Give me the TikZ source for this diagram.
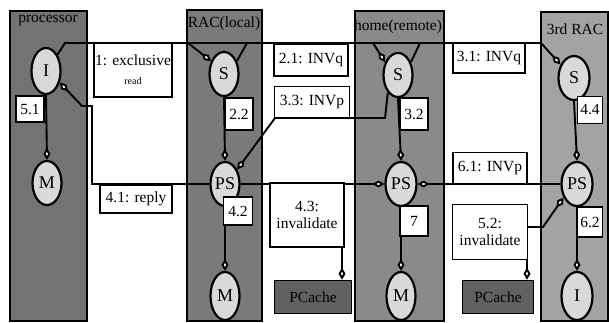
\documentclass[tikz,border=0pt]{standalone}
\usepackage{fontspec}
\setmainfont{Liberation Serif}
\usetikzlibrary{arrows.meta,shapes.geometric}

\begin{document}
\begin{tikzpicture}[x=1pt,y=-1pt,
  column/.style={draw,line width=1.6pt,fill=#1,inner sep=0pt},
  head/.style={inner sep=0pt,font=\fontsize{15.5}{17}\selectfont},
  state/.style={ellipse,draw,line width=2.2pt,fill=black!15,inner sep=0pt,
    minimum width=29pt,minimum height=44pt,font=\fontsize{18}{20}\selectfont},
  lbl/.style={draw,line width=1.6pt,fill=white,inner sep=1pt,align=center,
    font=\fontsize{15.5}{17}\selectfont},
  cache/.style={draw,line width=1.6pt,fill=black!62,inner sep=0pt,
    minimum width=#1,minimum height=33pt,font=\fontsize{15.5}{17}\selectfont},
  msg/.style={line width=1.9pt,-{Diamond[length=12pt,width=7pt,fill=white]}}]
\path[use as bounding box] (0,0) rectangle (609,323);
% columns
\node[column=black!55,minimum width=77pt,minimum height=310pt] (colP) at (48.5,166) {};
\node[column=black!52,minimum width=75pt,minimum height=311pt] (colR) at (224.5,165.5) {};
\node[column=black!46,minimum width=89pt,minimum height=310pt] (colH) at (399.5,166) {};
\node[column=black!36,minimum width=67pt,minimum height=309pt] (colX) at (574.5,166.5) {};
\node[head] (hdP) at (48,21) {processor};
\node[head] (hdR) at (224,24) {RAC(local)};
\node[head] (hdH) at (398,27) {home(remote)};
\node[head] (hdX) at (575,29) {3rd RAC};
% states
\node[state,minimum height=46pt] (pI) at (46,71) {I};
\node[state] (pM) at (47,183) {M};
\node[state] (rS) at (224,74) {S};
\node[state] (rPS) at (225,184) {PS};
\node[state,minimum height=48pt] (rM) at (225,296) {M};
\node[state] (hS) at (398,75) {S};
\node[state,minimum width=31pt] (hPS) at (401,184) {PS};
\node[state,minimum height=48pt] (hM) at (401,296) {M};
\node[state,minimum width=31pt] (xS) at (574,78) {S};
\node[state,minimum width=31pt] (xPS) at (577,184) {PS};
\node[state,minimum width=31pt,minimum height=48pt] (xI) at (577,296) {I};
% caches
\node[cache=77pt] (pc1) at (313,297) {PCache};
\node[cache=71pt] (pc2) at (498,297) {PCache};
% rail points
\coordinate (t0) at (65,43);
\coordinate (t1) at (188,43);
\coordinate (t2) at (247,43);
\coordinate (t3) at (373,43);
\coordinate (t4) at (420,43);
\coordinate (t5) at (541,43);
\coordinate (c33a) at (385,118);
\coordinate (c33b) at (275,118);
\coordinate (c41a) at (92,184);
\coordinate (c41b) at (92,106);
\coordinate (c41c) at (82,106);
\coordinate (j43) at (342,184);
\coordinate (c52a) at (543,227);
\coordinate (c52b) at (527,227);
% connectors
\draw[line width=1.9pt] (pI.55) -- (t0) -- (t5);
\draw[msg] (t1) -- (rS.135);
\draw[line width=1.9pt] (rS.45) -- (t2);
\draw[msg] (t3) -- (hS.135);
\draw[line width=1.9pt] (hS.45) -- (t4);
\draw[msg] (t5) -- (xS.135);
\draw[msg] (pI.south) -- (pM.north);
\draw[msg] (rS.south) -- (rPS.north);
\draw[msg] (hS.south) -- (hPS.north);
\draw[msg] (xS.south) -- (xPS.north);
\draw[msg] (rPS.south) -- (rM.north);
\draw[msg] (hPS.south) -- (hM.north);
\draw[msg] (xPS.south) -- (xI.north);
\draw[msg] (hS.240) -- (c33a) -- (c33b) -- (rPS.50);
\draw[msg] (rPS.west) -- (c41a) -- (c41b) -- (c41c) -- (pI.-40);
\draw[msg] (rPS.east) -- (hPS.west);
\draw[msg] (xPS.west) -- (hPS.east);
\draw[msg] (j43) -- (j43 |- pc1.north);
\draw[msg,{Diamond[length=12pt,width=7pt,fill=white]}-{Diamond[length=12pt,width=7pt,fill=white]}]
  (xPS.225) -- (c52a) -- (c52b) -- (c52b |- pc2.north);
% labels
\node[lbl,minimum width=70pt,minimum height=54pt] (l1) at (133,70)
  {1: exclusive\\[2pt]{\fontsize{10}{12}\selectfont read}};
\node[lbl,minimum width=28pt,minimum height=26pt] (l51) at (30,109) {5.1};
\node[lbl,minimum width=74pt,minimum height=32pt] (l21) at (311,60) {2.1: INVq};
\node[lbl,minimum width=75pt,minimum height=31pt] (l33) at (312,102) {3.3: INVp};
\node[lbl,minimum width=28pt,minimum height=32pt] (l22) at (239,114) {2.2};
\node[lbl,minimum width=28pt,minimum height=32pt] (l32) at (414,114) {3.2};
\node[lbl,minimum width=72pt,minimum height=30pt] (l31) at (489,58) {3.1: INVq};
\node[lbl,minimum width=25pt,minimum height=27pt] (l44) at (590,110) {4.4};
\node[lbl,minimum width=72pt,minimum height=28pt] (l41) at (136,199) {4.1: reply};
\node[lbl,minimum width=29pt,minimum height=28pt] (l42) at (238,211) {4.2};
\node[lbl,minimum width=74pt,minimum height=64pt] (l43) at (307,215) {4.3:\\invalidate};
\node[lbl,minimum width=28pt,minimum height=30pt] (l7) at (414,221) {7};
\node[lbl,minimum width=74pt,minimum height=31pt] (l61) at (490,168) {6.1: INVp};
\node[lbl,minimum width=75pt,minimum height=55pt] (l52) at (490,232) {5.2:\\invalidate};
\node[lbl,minimum width=25pt,minimum height=30pt] (l62) at (590,222) {6.2};
\end{tikzpicture}
\end{document}
